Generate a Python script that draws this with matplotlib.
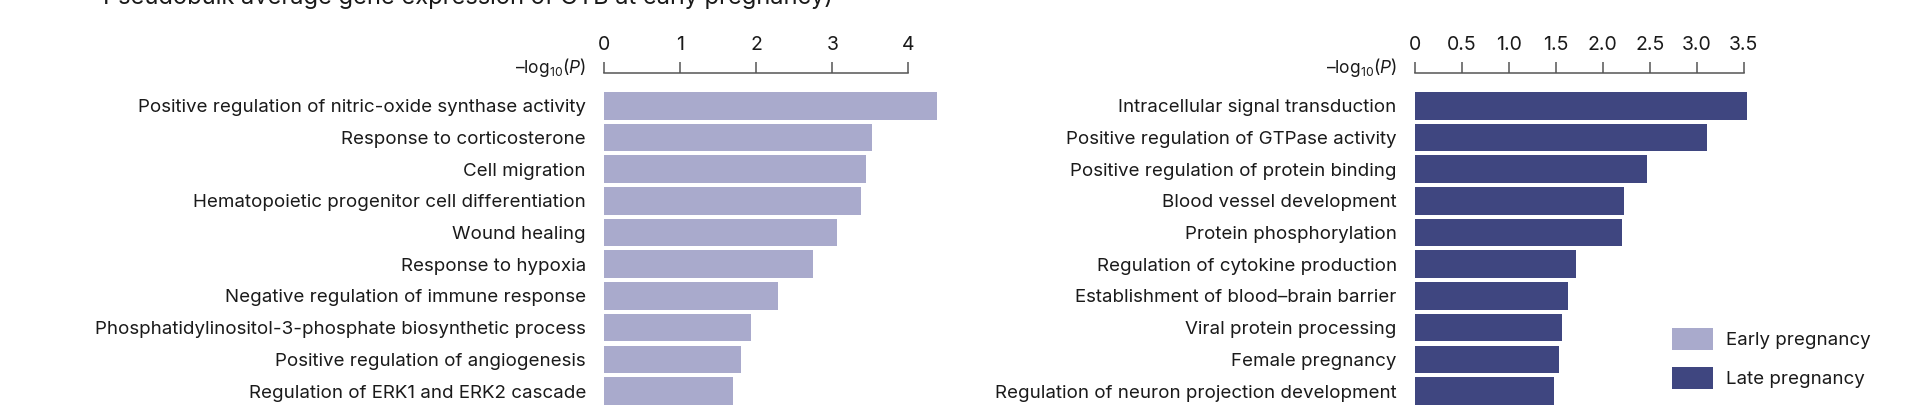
import matplotlib
matplotlib.use("Agg")
import matplotlib.pyplot as plt
from matplotlib.patches import Patch
import numpy as np

# GO terms, early pregnancy
early_terms = [
    "Positive regulation of nitric-oxide synthase activity",
    "Response to corticosterone",
    "Cell migration",
    "Hematopoietic progenitor cell differentiation",
    "Wound healing",
    "Response to hypoxia",
    "Negative regulation of immune response",
    "Phosphatidylinositol-3-phosphate biosynthetic process",
    "Positive regulation of angiogenesis",
    "Regulation of ERK1 and ERK2 cascade",
]
early_vals = [4.37, 3.52, 3.44, 3.38, 3.06, 2.75, 2.28, 1.93, 1.80, 1.70]

# GO terms, late pregnancy
late_terms = [
    "Intracellular signal transduction",
    "Positive regulation of GTPase activity",
    "Positive regulation of protein binding",
    "Blood vessel development",
    "Protein phosphorylation",
    "Regulation of cytokine production",
    "Establishment of blood\u2013brain barrier",
    "Viral protein processing",
    "Female pregnancy",
    "Regulation of neuron projection development",
]
late_vals = [3.54, 3.11, 2.47, 2.23, 2.21, 1.72, 1.63, 1.57, 1.54, 1.48]

early_ticks = [0, 1, 2, 3, 4]
early_ticklabels = ["0", "1", "2", "3", "4"]
late_ticks = [0, 0.5, 1.0, 1.5, 2.0, 2.5, 3.0, 3.5]
late_ticklabels = ["0", "0.5", "1.0", "1.5", "2.0", "2.5", "3.0", "3.5"]

title = "Pseudobulk average gene expression of GTB at early pregnancy)"
xlabel = "\u2013log$_{10}$($\\mathit{P}$)"

early_color = "#a9aacc"
late_color = "#3f4680"
text_color = "#1a1a1a"
axis_color = "#555555"

plt.rcParams["font.family"] = ["Inter", "DejaVu Sans"]
plt.rcParams["mathtext.fontset"] = "custom"
plt.rcParams["mathtext.rm"] = "Inter"
plt.rcParams["mathtext.it"] = "Inter:italic"

W, H = 1920, 405
fig = plt.figure(figsize=(W / 100, H / 100), dpi=100)

label_fs = 13.5
tick_fs = 14


def panel(x0_px, unit_px, xmax, terms, vals, color, ticks, ticklabels, label_right_px):
    top_px = 89.9
    width_px = unit_px * xmax
    ax = fig.add_axes([x0_px / W, 0, width_px / W, 1 - top_px / H])
    y = np.arange(len(terms))
    ax.barh(y, vals, height=0.87, color=color, edgecolor="none")
    ax.set_xlim(0, xmax)
    ax.set_ylim(9.44, -0.5)
    ax.set_yticks(y)
    ax.set_yticklabels(terms, fontsize=label_fs, color=text_color)
    ax.tick_params(axis="y", length=0, pad=13)
    for s in ["left", "right", "bottom"]:
        ax.spines[s].set_visible(False)
    ax.xaxis.set_ticks_position("top")
    ax.spines["top"].set_position(("outward", 12))
    ax.spines["top"].set_bounds(ticks[0], ticks[-1])
    ax.spines["top"].set_color(axis_color)
    ax.spines["top"].set_linewidth(1.1)
    ax.set_xticks(ticks)
    ax.set_xticklabels(ticklabels, fontsize=tick_fs, color=text_color)
    ax.tick_params(axis="x", length=8, width=1.1, color=axis_color, pad=6)
    fig.text(label_right_px / W, 1 - 73 / H, xlabel,
             ha="right", va="baseline", fontsize=12.5, color=text_color)
    return ax


ax1 = panel(604, 76.1, 4.5, early_terms, early_vals, early_color,
            early_ticks, early_ticklabels, 586)
ax2 = panel(1414.7, 94.0, 3.7, late_terms, late_vals, late_color,
            late_ticks, late_ticklabels, 1397)

# title line is cut at the top edge, as in the source figure
fig.text(103 / W, 1 - 4 / H, title, ha="left", va="baseline",
         fontsize=17, color=text_color)

handles = [Patch(facecolor=early_color, edgecolor="none"),
           Patch(facecolor=late_color, edgecolor="none")]
fs_px = label_fs / 72 * 100
fig.legend(handles, ["Early pregnancy", "Late pregnancy"],
           loc="upper left", bbox_to_anchor=(1672 / W, 1 - 328 / H),
           frameon=False, fontsize=label_fs, borderpad=0, borderaxespad=0,
           handlelength=41 / fs_px, handleheight=27 / fs_px,
           handletextpad=13 / fs_px, labelspacing=(44 - 27) / fs_px,
           labelcolor=text_color)

fig.savefig("out.png", dpi=100)
